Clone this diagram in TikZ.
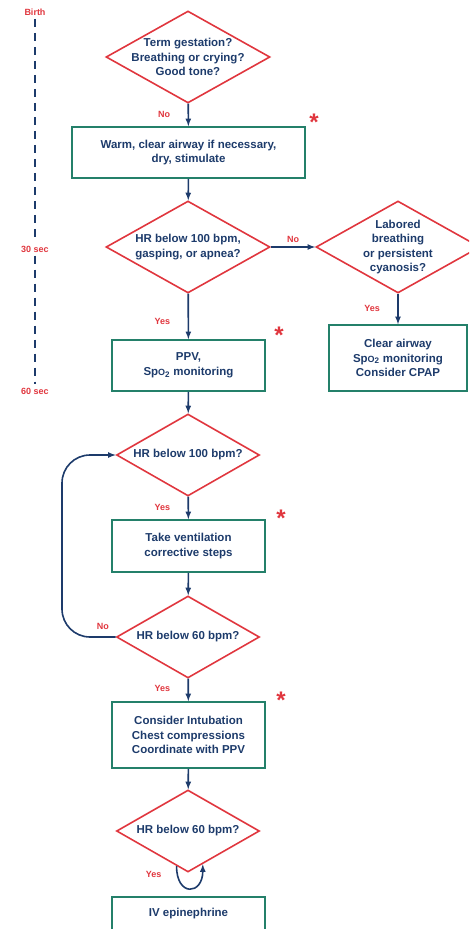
\documentclass[tikz,border=0pt]{standalone}
\usepackage{fontspec}
\setmainfont{Liberation Sans}
\usetikzlibrary{shapes.geometric}

\definecolor{navy}{HTML}{1D3B6B}
\definecolor{alertred}{HTML}{E0363E}
\definecolor{boxgreen}{HTML}{24806A}

\newcommand{\flowfont}{\fontsize{11.5}{14.5}\selectfont\bfseries}

\tikzset{
  question/.style={diamond, draw=alertred, line width=1.6pt, text=navy,
    font=\flowfont, align=center, inner sep=-10pt, aspect=1.78,
    minimum width=164pt, minimum height=92pt},
  smallquestion/.style={question, aspect=1.74,
    minimum width=143pt, minimum height=82pt},
  action/.style={rectangle, draw=boxgreen, line width=1.6pt, text=navy,
    font=\flowfont, align=center, minimum width=153pt, minimum height=51pt},
  flow/.style={->, draw=navy, line width=1.6pt},
  answer/.style={text=alertred, font=\fontsize{9}{11}\selectfont\bfseries},
  timemark/.style={text=alertred, font=\fontsize{9}{11}\selectfont\bfseries},
  timeline/.style={draw=navy, line width=2.2pt, dash pattern=on 8pt off 6pt},
  asterisk/.style={text=alertred, font=\fontsize{24}{24}\selectfont\bfseries}
}

\begin{document}
\begin{tikzpicture}[x=1pt,y=-1pt,>=latex]

\useasboundingbox (0,0) rectangle (469,929);
\clip (0,0) rectangle (469,929);

\node[timemark] (birth) at (35,12) {Birth};
\node[timemark] (sec30) at (35,249) {30 sec};
\node[timemark] (sec60) at (35,391) {60 sec};
\draw[timeline] (birth) to (sec30);
\draw[timeline] (sec30) to (sec60);

\node[question] (term) at (188,57) {Term gestation?\\Breathing or crying?\\Good tone?};
\node[action, minimum width=233pt] (warm) at (188.5,152.5) {Warm, clear airway if necessary,\\dry, stimulate};
\node[question] (hrgasp) at (188,247) {HR below 100 bpm,\\gasping, or apnea?};
\node[question] (labored) at (398,247) {Labored\\breathing\\or persistent\\cyanosis?};
\node[action, minimum width=138pt, minimum height=66pt] (clear) at (398,358) {Clear airway\\Sp{\small O}\textsubscript{2} monitoring\\Consider CPAP};
\node[action] (ppv) at (188.5,365.5) {PPV,\\Sp{\small O}\textsubscript{2} monitoring};
\node[smallquestion] (hrhundred) at (188,455) {HR below 100 bpm?};
\node[action, minimum height=52pt] (steps) at (188.5,546) {Take ventilation\\corrective steps};
\node[smallquestion] (hrsixty) at (188,637) {HR below 60 bpm?};
\node[action, minimum height=66pt] (chest) at (188.5,735) {Consider Intubation\\Chest compressions\\Coordinate with PPV};
\node[smallquestion] (hrlast) at (188,831) {HR below 60 bpm?};
\node[action, minimum height=34pt] (epi) at (188.5,914) {IV epinephrine};

\draw[flow] (term) to node[answer, left=14pt]{No} (warm);
\draw[flow] (warm) to (hrgasp);
\draw[flow] (hrgasp) to node[answer, above]{No} (labored);
\draw[flow] (hrgasp) to node[answer, left=14pt, pos=0.6]{Yes} (ppv);
\draw[flow] (labored) to node[answer, left=14pt, pos=0.47]{Yes} (clear);
\draw[flow] (ppv) to (hrhundred);
\draw[flow] (hrhundred) to node[answer, left=14pt, pos=0.48]{Yes} (steps);
\draw[flow] (steps) to (hrsixty);
\draw[flow] (hrsixty) to node[answer, left=14pt, pos=0.42]{Yes} (chest);
\draw[flow] (chest) to (hrlast);

\coordinate (loopturn) at (62,546);
\draw[flow, rounded corners=28pt] (hrsixty.west)
    -| node[answer, above=3pt, pos=0.12]{No} (loopturn)
    |- (hrhundred.west);

\draw[flow] (hrlast.-108) node[answer, left=11pt, yshift=-8pt]{Yes}
    to[out=-90, in=-90, looseness=3] (hrlast.-66);

\node[asterisk] (ast1) at (314,122) {*};
\node[asterisk] (ast2) at (279,335) {*};
\node[asterisk] (ast3) at (281,518) {*};
\node[asterisk] (ast4) at (281,700) {*};

\end{tikzpicture}
\end{document}
